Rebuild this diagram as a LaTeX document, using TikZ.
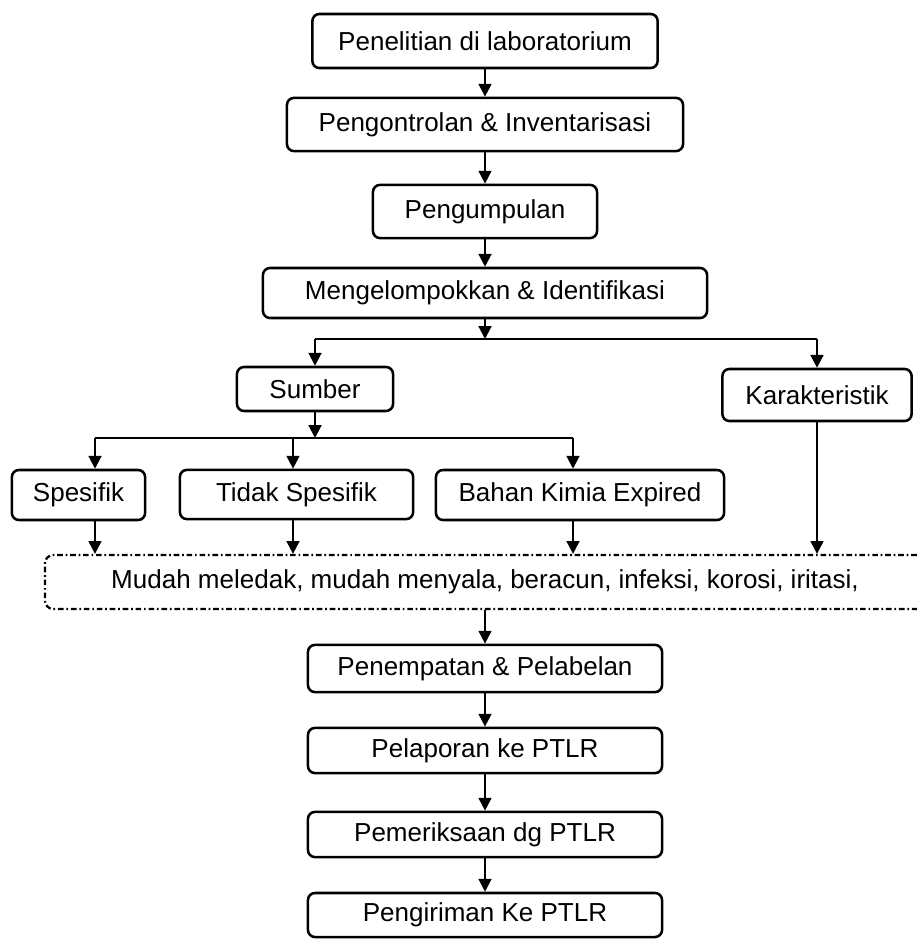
\documentclass[tikz,border=0pt]{standalone}
\usepackage{fontspec}
\setmainfont{Liberation Sans}
\usepackage{tikz}
\usetikzlibrary{arrows.meta, calc}

\begin{document}
\begin{tikzpicture}[
    x=0.025cm, y=-0.025cm,
    font=\fontsize{18.5}{22}\selectfont,
    >={Triangle[length=3.2mm, width=3.2mm]},
    stepbox/.style={draw, line width=1.8pt, rounded corners=5pt, inner sep=0pt, minimum height=1.3cm},
    conn/.style={line width=1.5pt},
    arr/.style={conn, ->},
    dashbox/.style={draw, line width=1.6pt, rounded corners=6pt, dash pattern=on 4pt off 2pt on 1.2pt off 2pt,
                    inner sep=0pt, minimum width=22cm, minimum height=1.35cm},
]
\useasboundingbox (0,0) rectangle (916,939);

% --- Main chain, top ---
\node[stepbox, minimum width=8.63cm, minimum height=1.35cm] (lab)      at (485, 41)    {Penelitian di laboratorium};
\node[stepbox, minimum width=9.9cm,  minimum height=1.33cm] (kontrol)  at (485, 124.5) {Pengontrolan \& Inventarisasi};
\node[stepbox, minimum width=5.6cm,  minimum height=1.33cm] (kumpul)   at (485, 211.5) {Pengumpulan};
\node[stepbox, minimum width=11.1cm, minimum height=1.25cm] (kelompok) at (485, 293)   {Mengelompokkan \& Identifikasi};

\draw[arr] (lab) -- (kontrol);
\draw[arr] (kontrol) -- (kumpul);
\draw[arr] (kumpul) -- (kelompok);

% --- First split: Sumber / Karakteristik ---
\node[stepbox, minimum width=3.9cm,  minimum height=1.1cm] (sumber) at (315, 389) {Sumber};
\node[stepbox, minimum width=4.73cm, minimum height=1.3cm] (karak)  at (817, 395) {Karakteristik};

\coordinate (bus1) at (485, 339);
\draw[arr] (kelompok.south) -- (bus1);
\draw[conn] (bus1 -| sumber) -- (bus1 -| karak);
\draw[arr] (bus1 -| sumber) -- (sumber.north);
\draw[arr] (bus1 -| karak) -- (karak.north);

% --- Second split under Sumber ---
\node[stepbox, minimum width=3.33cm, minimum height=1.25cm] (spes)  at (78.5, 495)    {Spesifik};
\node[stepbox, minimum width=5.83cm, minimum height=1.23cm] (tidak) at (296.5, 494.5) {Tidak Spesifik};
\node[stepbox, minimum width=7.2cm,  minimum height=1.25cm] (bahan) at (580, 495)     {Bahan Kimia Expired};

\coordinate (bus2) at (315, 438);
\coordinate (spesin)  at ($(spes.north)+(16.5,0)$);
\coordinate (tidakin) at ($(tidak.north)+(-3.5,0)$);
\coordinate (bahanin) at ($(bahan.north)+(-7,0)$);
\draw[arr] (sumber.south) -- (bus2);
\draw[conn] (bus2 -| spesin) -- (bus2 -| bahanin);
\draw[arr] (bus2 -| spesin) -- (spesin);
\draw[arr] (bus2 -| tidakin) -- (tidakin);
\draw[arr] (bus2 -| bahanin) -- (bahanin);

% --- Dash-dot category box (runs off the right edge) ---
\node[dashbox] (mudah) at (485, 582) {Mudah meledak, mudah menyala, beracun, infeksi, korosi, iritasi,};

\draw[arr] (spes.south -| spesin) -- (spesin |- mudah.north);
\draw[arr] (tidak.south -| tidakin) -- (tidakin |- mudah.north);
\draw[arr] (bahan.south -| bahanin) -- (bahanin |- mudah.north);
\draw[arr] (karak.south) -- (karak.south |- mudah.north);

% --- Main chain, bottom ---
\node[stepbox, minimum width=8.85cm, minimum height=1.18cm] (tempat)  at (485, 668.5) {Penempatan  \& Pelabelan};
\node[stepbox, minimum width=8.85cm, minimum height=1.13cm] (lapor)   at (485, 750.5) {Pelaporan ke PTLR};
\node[stepbox, minimum width=8.85cm, minimum height=1.13cm] (periksa) at (485, 834.5) {Pemeriksaan dg PTLR};
\node[stepbox, minimum width=8.85cm, minimum height=1.1cm]  (kirim)   at (485, 915)   {Pengiriman Ke PTLR};

\draw[arr] (mudah.south -| tempat) -- (tempat.north);
\draw[arr] (tempat) -- (lapor);
\draw[arr] (lapor) -- (periksa);
\draw[arr] (periksa) -- (kirim);

\end{tikzpicture}
\end{document}
